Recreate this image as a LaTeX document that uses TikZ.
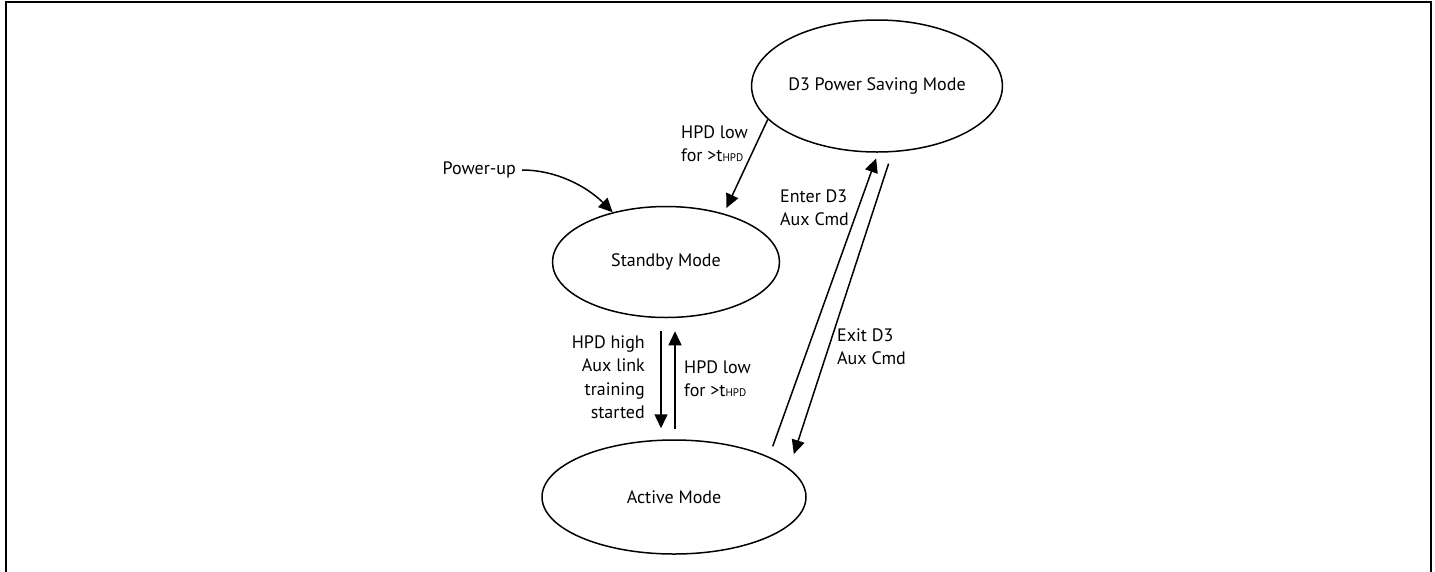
\documentclass[tikz,border=0pt]{standalone}
\usepackage{fontspec}
\setmainfont{PT Sans}
\usetikzlibrary{arrows.meta,shapes.geometric}
\newcommand{\tsub}{t{\fontsize{11}{11}\selectfont HPD}}
\begin{document}
\begin{tikzpicture}[x=1pt,y=-1pt,
  state/.style={draw,ellipse,line width=1.5pt,inner sep=0pt,font=\fontsize{18}{23.5}\selectfont},
  lbl/.style={inner sep=0pt,font=\fontsize{18}{23.5}\selectfont},
  conn/.style={line width=1.5pt,-{Triangle[length=14pt,width=13pt]}}]
\useasboundingbox (0,0) rectangle (1435,571);
\draw[line width=2pt] (5.5,580) -- (5.5,1.5) -- (1430.5,1.5) -- (1430.5,580);
\node[state,minimum width=225pt,minimum height=132pt] (d3) at (877,86) {D3 Power Saving Mode};
\node[state,minimum width=227pt,minimum height=111pt] (sb) at (666,262) {Standby Mode};
\node[state,minimum width=264pt,minimum height=114pt] (ac) at (674,497) {Active Mode};
\node[lbl,anchor=east] (pu) at (516,170) {Power-up};
\node[lbl,anchor=west,align=left] (l1) at (681,143.5) {HPD low\\for >\tsub};
\node[lbl,anchor=west,align=left] (l2) at (780,207.5) {Enter D3\\Aux Cmd};
\node[lbl,anchor=west,align=left] (l3) at (837,346.5) {Exit D3\\Aux Cmd};
\node[lbl,anchor=east,align=right] (l4) at (645,377) {HPD high\\Aux link\\training\\started};
\node[lbl,anchor=west,align=left] (l5) at (684,378.5) {HPD low\\for >\tsub};
% connectors
\draw[conn] ([xshift=6pt]pu.east) to[out=0,in=135,looseness=0.9] (sb.137.5);
\draw[conn,shorten >=6pt] (d3.197) -- (sb.40);
\draw[conn,shorten <=11pt,shorten >=6pt] (ac.23) -- (d3.271);
\draw[conn,shorten <=12pt,shorten >=15pt] (d3.283.8) -- (ac.14.6);
\draw[conn] ([xshift=-5pt,yshift=-13pt]sb.south) -- ([xshift=-13pt,yshift=11pt]ac.north);
\draw[conn] ([xshift=1pt,yshift=10pt]ac.north) -- ([xshift=9pt,yshift=-13pt]sb.south);
\end{tikzpicture}
\end{document}
